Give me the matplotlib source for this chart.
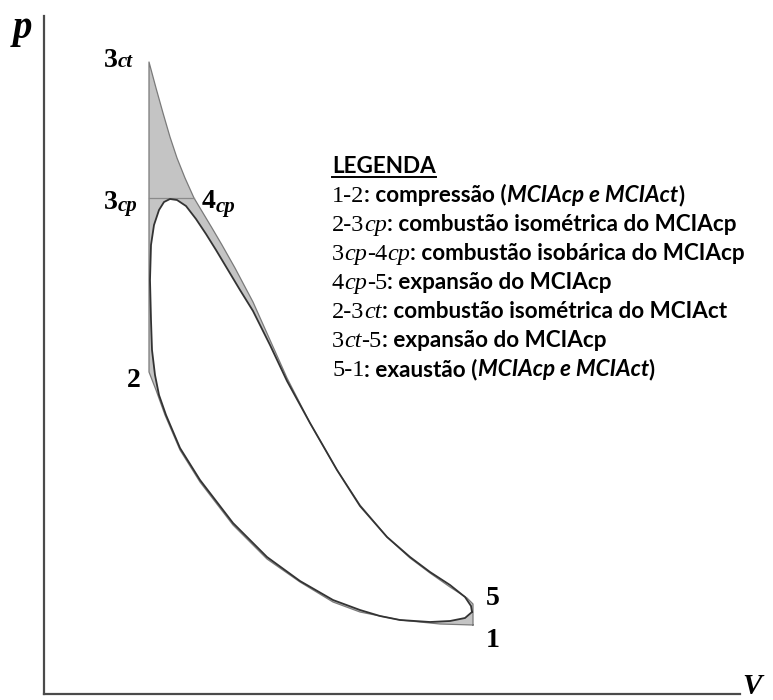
import matplotlib
matplotlib.use("Agg")
import matplotlib.pyplot as plt

# --- Diagram data (V, p in arbitrary units) ---
# ideal Otto (MCIAct) cycle: 1 -> 2 compression
comp_V = [429, 396, 356, 316, 289, 256, 223, 189, 156, 136, 121, 112, 105]
comp_p = [69, 70, 74, 82, 92, 112, 135, 169, 212, 244, 279, 304, 322]
# 3ct -> 5 expansion (passes through 4cp)
exp_V = [105, 112, 119, 126, 133, 141, 150, 159, 168, 178, 191, 209, 226, 243,
         266, 293, 316, 343, 366, 386, 406, 423, 429]
exp_p = [632, 606, 581, 557, 536, 516, 496, 481, 466, 449, 426, 392, 354, 316,
         271, 224, 189, 157, 136, 121, 107, 96, 90]
# isobaric line of the Diesel (MCIAcp) cycle, 3cp -> 4cp
iso_V = [105, 150]
iso_p = [496, 496]

# real cycle loop
real_V = [428, 421, 406, 386, 356, 336, 316, 289, 256, 223, 189, 156, 136, 122,
          115, 111, 108, 107, 106, 107, 110, 115, 120, 126, 133, 142, 152, 162,
          172, 184, 196, 209, 226, 243, 266, 293, 316, 343, 366, 386, 406, 421,
          427, 428]
real_p = [82, 76, 73, 72, 74, 78, 84, 94, 113, 137, 171, 214, 246, 279,
          299, 319, 344, 374, 414, 449, 469, 484, 492, 495, 494, 488, 475, 460,
          444, 424, 404, 383, 349, 313, 271, 224, 188, 157, 137, 122, 109, 97,
          88, 82]

legend_title = "LEGENDA"
legend_rows = [
    [("1-2", "serif"), (": compressão (", "sans"), ("MCIAcp e MCIAct", "sans_i"), (")", "sans")],
    [("2-3", "serif"), ("cp", "serif_i"), (": combustão isométrica do MCIAcp", "sans")],
    [("3", "serif"), ("cp", "serif_i"), ("-4", "serif"), ("cp", "serif_i"),
     (": combustão isobárica do MCIAcp", "sans")],
    [("4", "serif"), ("cp", "serif_i"), ("-5", "serif"), (": expansão do MCIAcp", "sans")],
    [("2-3", "serif"), ("ct", "serif_i"), (": combustão isométrica do MCIAct", "sans")],
    [("3", "serif"), ("ct", "serif_i"), ("-5", "serif"), (": expansão do MCIAcp", "sans")],
    [("5-1", "serif"), (": exaustão (", "sans"), ("MCIAcp e MCIAct", "sans_i"), (")", "sans")],
]

W, H = 773, 700
fig = plt.figure(figsize=(W / 100, H / 100), dpi=100)
ax = fig.add_axes([44 / W, 6 / H, 696 / W, 678 / H])
ax.set_xlim(0, 696)
ax.set_ylim(0, 678)
ax.set_xticks([])
ax.set_yticks([])
for side in ["top", "right"]:
    ax.spines[side].set_visible(False)
for side in ["left", "bottom"]:
    ax.spines[side].set_color("#4a4a4a")
    ax.spines[side].set_linewidth(1.6)

# grey area = ideal Otto cycle, then the real loop is painted white on top
otto_V = comp_V + exp_V
otto_p = comp_p + exp_p
ax.fill(otto_V, otto_p, color="#c4c4c4", lw=0)
ax.fill(real_V, real_p, color="white", lw=0)
ax.plot(otto_V + [comp_V[0]], otto_p + [comp_p[0]], color="#7a7a7a", lw=0.9)
ax.plot(iso_V, iso_p, color="#8a8a8a", lw=0.9)
ax.plot(real_V, real_p, color="#333333", lw=1.3)

renderer = fig.canvas.get_renderer()
styles = {
    "serif": dict(family="Liberation Serif", fontsize=17.5),
    "serif_i": dict(family="Liberation Serif", style="italic", fontsize=17.5),
    "sans": dict(family="Lato", weight="bold", fontsize=16.2),
    "sans_i": dict(family="Lato", weight="bold", style="italic", fontsize=16.2),
    "big": dict(family="Liberation Serif", weight="bold", fontsize=20),
    "sub": dict(family="Liberation Serif", weight="bold", style="italic", fontsize=15),
}


def rich(x, y, parts, dy=None):
    # x, y in pixels from top-left; parts drawn one after another
    for i, (s, key) in enumerate(parts):
        off = dy[i] if dy else 0
        t = fig.text(x / W, 1 - (y + off) / H, s, va="baseline", ha="left",
                     color="black", **styles[key])
        x += t.get_window_extent(renderer).width


t = fig.text(332 / W, 1 - 173 / H, legend_title, family="Lato", weight="bold",
             fontsize=16.2, va="baseline")
bb = t.get_window_extent(renderer)
fig.add_artist(plt.Line2D([bb.x0 / W, bb.x1 / W], [1 - 177 / H, 1 - 177 / H],
                          color="black", lw=1.4))
for k, row in enumerate(legend_rows):
    rich(332, 202 + k * 29, row)

# point labels
rich(104, 67, [("3", "big"), ("ct", "sub")])
rich(104, 209, [("3", "big"), ("cp", "sub")], dy=[0, 2])
rich(202, 208, [("4", "big"), ("cp", "sub")], dy=[0, 4])
rich(127, 387, [("2", "big")])
rich(486, 605, [("5", "big")])
rich(486, 647, [("1", "big")])
fig.text(13 / W, 1 - 38 / H, "p", family="Liberation Serif", weight="bold",
         style="italic", fontsize=28, va="baseline")
fig.text(742 / W, 1 - 694 / H, "V", family="Liberation Serif", weight="bold",
         style="italic", fontsize=21, va="baseline")

fig.savefig("out.png", dpi=100)
